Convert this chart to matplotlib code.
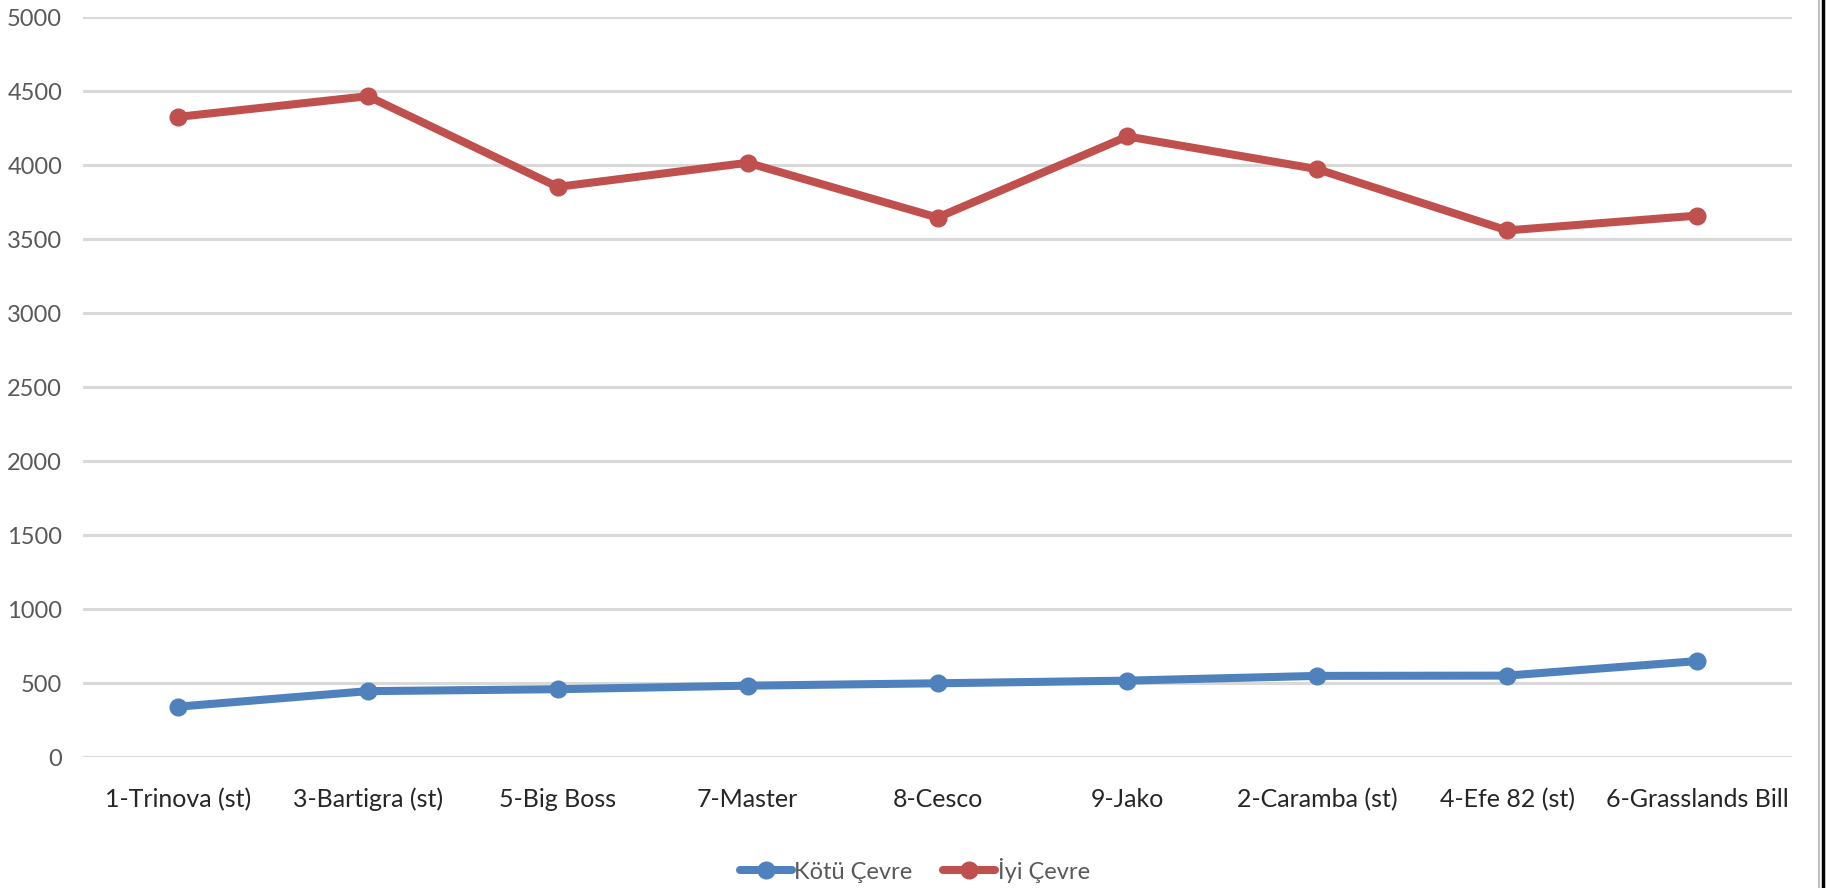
import matplotlib
matplotlib.use("Agg")
import matplotlib.pyplot as plt
from matplotlib.lines import Line2D

categories = ["1-Trinova (st)", "3-Bartigra (st)", "5-Big Boss", "7-Master", "8-Cesco",
              "9-Jako", "2-Caramba (st)", "4-Efe 82 (st)", "6-Grasslands Bill"]
kotu = [340, 445, 458, 482, 498, 516, 548, 550, 648]
iyi = [4325, 4465, 3852, 4015, 3645, 4193, 3972, 3558, 3658]
yticks = [0, 500, 1000, 1500, 2000, 2500, 3000, 3500, 4000, 4500, 5000]

plt.rcParams['font.family'] = ['Liberation Sans Narrow', 'Lato', 'DejaVu Sans']

W, H = 1830, 888
fig = plt.figure(figsize=(W / 100, H / 100), dpi=100)
ax = fig.add_axes([83 / W, 1 - 757 / H, (1792 - 83) / W, (757 - 17) / H])

x = list(range(len(categories)))
ax.plot(x, kotu, color="#4F81BD", lw=5.8, marker="o", ms=12, label="Kötü Çevre",
        solid_capstyle="round", zorder=3)
ax.plot(x, iyi, color="#C0504D", lw=5.8, marker="o", ms=12, label="İyi Çevre",
        solid_capstyle="round", zorder=3)

ax.set_xlim(-0.5, len(categories) - 0.5)
ax.set_ylim(0, 5000)
ax.set_yticks(yticks)
ax.set_yticklabels([str(v) for v in yticks])
ax.set_xticks(x)
ax.set_xticklabels(categories)
ax.tick_params(axis="y", length=0, pad=15, labelsize=17, labelcolor="#595959")
ax.tick_params(axis="x", length=0, pad=22, labelsize=18, labelcolor="#262626")
ax.grid(axis="y", color="#D9D9D9", lw=2.2, zorder=0)
ax.set_axisbelow(True)
for s in ax.spines.values():
    s.set_visible(False)

leg = fig.legend(loc="center", bbox_to_anchor=(0.5, 1 - 870 / H), ncol=2, frameon=False,
                 fontsize=17, handlelength=2.2, columnspacing=1.3, handletextpad=0.1,
                 labelcolor="#595959")

fig.add_artist(Line2D([1823 / W, 1823 / W], [0, 1], color="black", lw=2.5,
                      transform=fig.transFigure))
fig.add_artist(Line2D([1819 / W, 1819 / W], [0, 1], color="#BFBFBF", lw=1.5,
                      transform=fig.transFigure))

fig.savefig("out.png", dpi=100)
